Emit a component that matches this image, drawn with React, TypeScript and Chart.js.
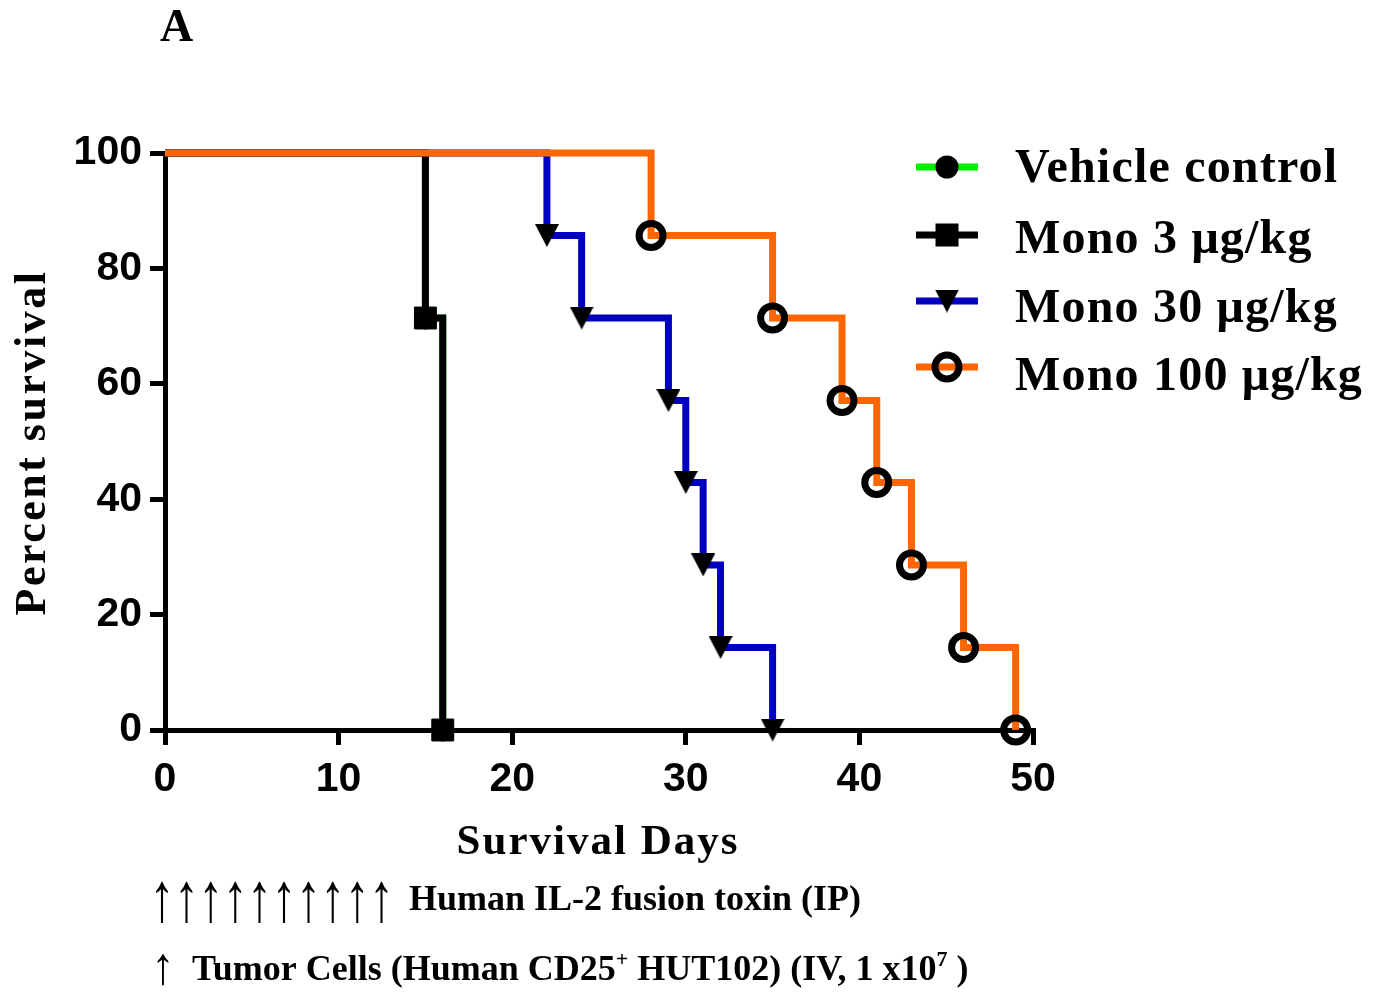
import React, { useEffect, useRef } from 'react';
import { Chart, registerables } from 'chart.js';

Chart.register(...registerables);

// ---------------- data ----------------
const SERIES_NAMES = ['Vehicle control', 'Mono 3 μg/kg', 'Mono 30 μg/kg', 'Mono 100 μg/kg'];

const vehicleDays = [0, 15, 16];
const vehicleSurvival = [100, 71.4, 0];

const mono3Days = [0, 15, 16];
const mono3Survival = [100, 71.4, 0];

const mono30Days = [0, 22, 24, 29, 30, 31, 32, 35];
const mono30Survival = [100, 85.7, 71.4, 57.1, 42.9, 28.6, 14.3, 0];

const mono100Days = [0, 28, 35, 39, 41, 43, 46, 49];
const mono100Survival = [100, 85.7, 71.4, 57.1, 42.9, 28.6, 14.3, 0];

const xTicks = [0, 10, 20, 30, 40, 50];
const yTicks = [0, 20, 40, 60, 80, 100];

const X_TITLE = 'Survival Days';
const Y_TITLE = 'Percent survival';
const PANEL_LABEL = 'A';
const DOSING_NOTE = 'Human IL-2 fusion toxin (IP)';
const DOSING_ARROWS = 10;
const ARROW = '↑';
const TUMOR_NOTE = [
  { t: 'Tumor Cells (Human CD25', sup: false },
  { t: '+', sup: true },
  { t: ' HUT102) (IV, 1 x10', sup: false },
  { t: '7', sup: true },
  { t: ' )', sup: false },
];

// ---------------- styles ----------------
const SERIF = "'Liberation Serif', 'Times New Roman', serif";
const SANS = "'Liberation Sans', Arial, sans-serif";
const GREEN = '#00ee00';
const BLACK = '#000000';
const BLUE = '#0000c0';
const ORANGE = '#ff6600';

function makeTriangle(w: number, h: number): HTMLCanvasElement {
  const c = document.createElement('canvas');
  c.width = w;
  c.height = h;
  const g = c.getContext('2d')!;
  g.fillStyle = BLACK;
  g.beginPath();
  g.moveTo(0, 0);
  g.lineTo(w, 0);
  g.lineTo(w / 2, h);
  g.closePath();
  g.fill();
  return c;
}

function toPoints(days: number[], surv: number[]) {
  return days.map((d, i) => ({ x: d, y: surv[i] }));
}

function radii(days: number[], r: number) {
  return days.map((_, i) => (i === 0 ? 0 : r));
}

function drawArrow(ctx: CanvasRenderingContext2D, x: number, baseline: number, size: number, sy: number) {
  ctx.save();
  ctx.translate(x, baseline);
  ctx.scale(1, sy);
  ctx.font = `bold ${size}px ${SERIF}`;
  ctx.textAlign = 'center';
  ctx.fillText(ARROW, 0, 0);
  ctx.restore();
}

export default function App() {
  const ref = useRef<HTMLCanvasElement | null>(null);

  useEffect(() => {
    document.body.style.margin = '0';
    const canvas = ref.current;
    if (!canvas) return;
    const tri = makeTriangle(24, 23);

    const common = {
      stepped: 'before' as const,
      borderWidth: 7,
      fill: false,
      clip: false as const,
      borderJoinStyle: 'miter' as const,
      borderCapStyle: 'butt' as const,
      pointBorderColor: BLACK,
      pointHoverRadius: 0,
    };

    const annotPlugin = {
      id: 'annotations',
      afterDraw(chart: any) {
        const ctx: CanvasRenderingContext2D = chart.ctx;
        const area = chart.chartArea;
        ctx.save();
        ctx.fillStyle = BLACK;
        ctx.textBaseline = 'alphabetic';

        // panel label
        ctx.font = `bold 46px ${SERIF}`;
        ctx.textAlign = 'left';
        ctx.fillText(PANEL_LABEL, 160, 41);

        // x title
        ctx.font = `bold 43px ${SERIF}`;
        (ctx as any).letterSpacing = '2px';
        ctx.textAlign = 'center';
        ctx.fillText(X_TITLE, (area.left + area.right) / 2 - 1, area.bottom + 124);

        // y title
        ctx.save();
        ctx.translate(45, (area.top + area.bottom) / 2 + 1);
        ctx.rotate(-Math.PI / 2);
        ctx.font = `bold 44px ${SERIF}`;
        (ctx as any).letterSpacing = '2.5px';
        ctx.textAlign = 'center';
        ctx.fillText(Y_TITLE, 0, 0);
        ctx.restore();

        // legend
        const rowsMarker = [167, 235, 301, 367];
        const rowsText = [182, 253, 322, 390];
        const colors = [GREEN, BLACK, BLUE, ORANGE];
        ctx.font = `bold 48px ${SERIF}`;
        (ctx as any).letterSpacing = '1.2px';
        ctx.textAlign = 'left';
        SERIES_NAMES.forEach((name, i) => {
          const cy = rowsMarker[i];
          ctx.strokeStyle = colors[i];
          ctx.lineWidth = 7;
          ctx.beginPath();
          ctx.moveTo(916, cy);
          ctx.lineTo(978, cy);
          ctx.stroke();
          const mx = 947;
          ctx.fillStyle = BLACK;
          ctx.strokeStyle = BLACK;
          if (i === 0) {
            ctx.beginPath();
            ctx.arc(mx, cy, 11.5, 0, Math.PI * 2);
            ctx.fill();
          } else if (i === 1) {
            ctx.fillRect(mx - 11.5, cy - 11.5, 23, 23);
          } else if (i === 2) {
            ctx.drawImage(tri, mx - 12, cy - 11.5);
          } else {
            ctx.lineWidth = 7;
            ctx.beginPath();
            ctx.arc(mx, cy, 12, 0, Math.PI * 2);
            ctx.stroke();
          }
          ctx.fillStyle = BLACK;
          ctx.fillText(name, 1015, rowsText[i]);
        });
        (ctx as any).letterSpacing = '0px';

        // dosing arrows
        for (let k = 0; k < DOSING_ARROWS; k++) {
          drawArrow(ctx, 162 + k * 24.4, 921, 50, 1.4);
        }
        ctx.font = `bold 36px ${SERIF}`;
        ctx.textAlign = 'left';
        ctx.fillText(DOSING_NOTE, 409, 910);

        // tumor note
        drawArrow(ctx, 163, 984, 46, 1.15);
        let x = 192;
        ctx.textAlign = 'left';
        TUMOR_NOTE.forEach((seg) => {
          ctx.font = seg.sup ? `bold 22px ${SERIF}` : `bold 36px ${SERIF}`;
          ctx.fillText(seg.t, x, seg.sup ? 966 : 980);
          x += ctx.measureText(seg.t).width;
        });

        ctx.restore();
      },
    };

    const chart = new Chart(canvas, {
      type: 'line',
      data: {
        datasets: [
          {
            ...common,
            label: SERIES_NAMES[0],
            data: toPoints(vehicleDays, vehicleSurvival),
            borderColor: GREEN,
            backgroundColor: BLACK,
            pointBackgroundColor: BLACK,
            pointStyle: 'circle',
            pointRadius: radii(vehicleDays, 11),
            pointBorderWidth: 1,
            order: 3,
          },
          {
            ...common,
            label: SERIES_NAMES[1],
            data: toPoints(mono3Days, mono3Survival),
            borderColor: BLACK,
            backgroundColor: BLACK,
            pointBackgroundColor: BLACK,
            pointStyle: 'rect',
            pointRadius: radii(mono3Days, 15.5),
            pointBorderWidth: 1,
            order: 2,
          },
          {
            ...common,
            label: SERIES_NAMES[2],
            data: toPoints(mono30Days, mono30Survival),
            borderColor: BLUE,
            backgroundColor: BLACK,
            pointBackgroundColor: BLACK,
            pointStyle: tri,
            pointRadius: radii(mono30Days, 12),
            pointBorderWidth: 0,
            order: 1,
          },
          {
            ...common,
            label: SERIES_NAMES[3],
            data: toPoints(mono100Days, mono100Survival),
            borderColor: ORANGE,
            backgroundColor: 'rgba(0,0,0,0)',
            pointBackgroundColor: 'rgba(0,0,0,0)',
            pointStyle: 'circle',
            pointRadius: radii(mono100Days, 12),
            pointBorderWidth: 7,
            order: 0,
          },
        ] as any,
      },
      options: {
        responsive: false,
        animation: false,
        devicePixelRatio: 1,
        events: [],
        layout: { padding: { top: 153, right: 344, left: 0, bottom: 0 } },
        plugins: {
          legend: { display: false },
          tooltip: { enabled: false },
          title: { display: false },
        },
        scales: {
          x: {
            type: 'linear',
            min: 0,
            max: 50,
            afterBuildTicks: (s: any) => {
              s.ticks = xTicks.map((v) => ({ value: v }));
            },
            afterFit: (s: any) => {
              s.height = 262;
            },
            ticks: {
              color: BLACK,
              font: { family: SANS, size: 41, weight: 'bold' },
              padding: 10,
              maxRotation: 0,
              autoSkip: false,
            },
            grid: {
              drawOnChartArea: false,
              drawTicks: true,
              tickLength: 15,
              lineWidth: 5,
              color: BLACK,
            },
            border: { display: true, width: 5, color: BLACK },
          },
          y: {
            type: 'linear',
            min: 0,
            max: 100,
            afterBuildTicks: (s: any) => {
              s.ticks = yTicks.map((v) => ({ value: v }));
            },
            afterFit: (s: any) => {
              s.width = 165;
            },
            ticks: {
              color: BLACK,
              font: { family: SANS, size: 41, weight: 'bold' },
              padding: 8,
              autoSkip: false,
            },
            grid: {
              drawOnChartArea: false,
              drawTicks: true,
              tickLength: 15,
              lineWidth: 5,
              color: BLACK,
            },
            border: { display: true, width: 5, color: BLACK },
          },
        },
      } as any,
      plugins: [annotPlugin],
    });

    return () => chart.destroy();
  }, []);

  return (
    <div style={{ position: 'absolute', left: 0, top: 0, width: 1377, height: 992, background: '#fff' }}>
      <canvas ref={ref} width={1377} height={992} style={{ display: 'block', width: 1377, height: 992 }} />
    </div>
  );
}
